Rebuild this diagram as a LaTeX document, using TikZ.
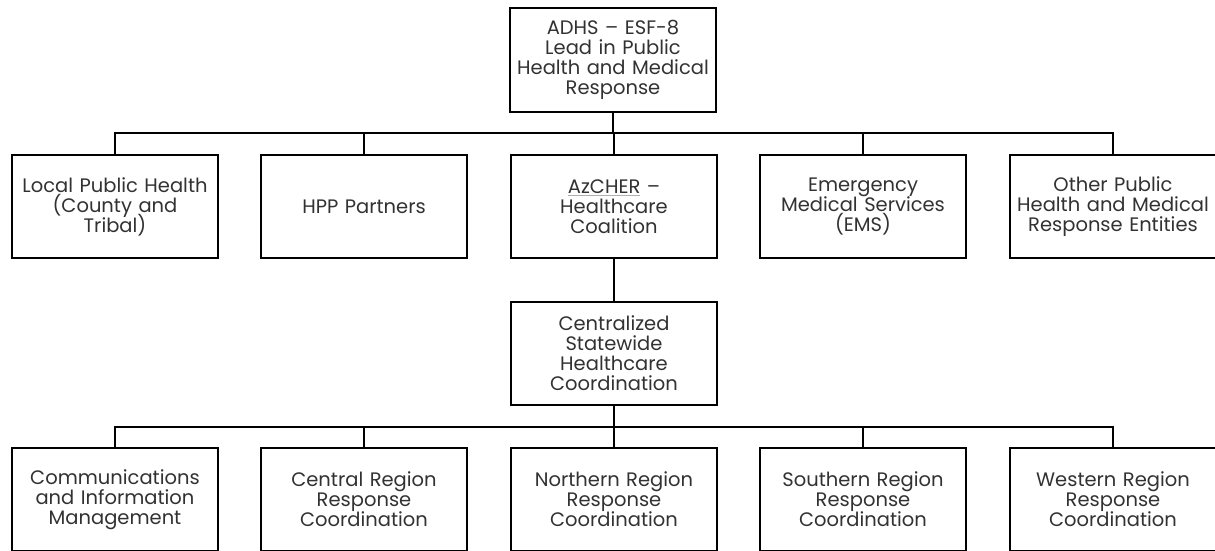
\documentclass[tikz,border=0pt]{standalone}
\usepackage{fontspec}
\setmainfont{Poppins}
\usepackage{xcolor}
\usetikzlibrary{positioning,calc}
\definecolor{txtclr}{RGB}{50,50,50}
\definecolor{spellclr}{RGB}{235,150,150}
\newcommand{\spellmark}[1]{{\color{spellclr}\underline{\color{txtclr}#1}}}
\newcommand{\boxfont}{\fontsize{19.5}{20}\selectfont\lineskiplimit=-20pt\relax\lineskip=0pt\relax}
\tikzset{
  orgbox/.style={rectangle,draw=black,line width=2.8pt,fill=white,
                 minimum width=205pt,minimum height=103pt,
                 inner sep=0pt,align=center,text width=206pt,
                 font=\boxfont,text=txtclr},
  link/.style={line width=2.8pt,draw=black},
}
\begin{document}
\begin{tikzpicture}[x=1pt, y=-1pt]
\useasboundingbox (0,0) rectangle (1215,550);
\clip (0,0) rectangle (1215,550);

% lead agency
\node[orgbox,minimum width=203pt,minimum height=104pt] (lead) at (613,60)
  {ADHS -- ESF-8\\Lead in Public\\Health and Medical\\Response};

% first tier
\node[orgbox] (lph) at (115,206.5) {Local Public Health\\(County and\\Tribal)};
\node[orgbox] (hpp) at (364,206.5) {HPP Partners};
\node[orgbox] (hcc) at (614,206.5) {\spellmark{AzCHER} --\\Healthcare\\Coalition};
\node[orgbox] (ems) at (863,206.5) {Emergency\\Medical Services\\(EMS)};
\node[orgbox] (oth) at (1113,206.5) {Other Public\\Health and Medical\\Response Entities};

% statewide coordination
\node[orgbox] (csh) at (614,353.5) {Centralized\\Statewide\\Healthcare\\Coordination};

% second tier
\node[orgbox] (cim) at (115,499.5) {Communications\\and Information\\Management};
\node[orgbox] (crr) at (364,499.5) {Central Region\\Response\\Coordination};
\node[orgbox] (nrr) at (614,499.5) {Northern Region\\Response\\Coordination};
\node[orgbox] (srr) at (863,499.5) {Southern Region\\Response\\Coordination};
\node[orgbox] (wrr) at (1113,499.5) {Western Region\\Response\\Coordination};

\coordinate (busA) at (613,133);
\coordinate (busB) at (614,427);

\begin{scope}[on background layer/.try]
\foreach \n in {lph,hpp,hcc,ems,oth}
  \draw[link] (lead.south) -- (lead.south |- busA) -| (\n.north);
\draw[link] (hcc.south) -- (csh.north);
\foreach \n in {cim,crr,nrr,srr,wrr}
  \draw[link] (csh.south) -- (csh.south |- busB) -| (\n.north);
\end{scope}
\end{tikzpicture}
\end{document}
